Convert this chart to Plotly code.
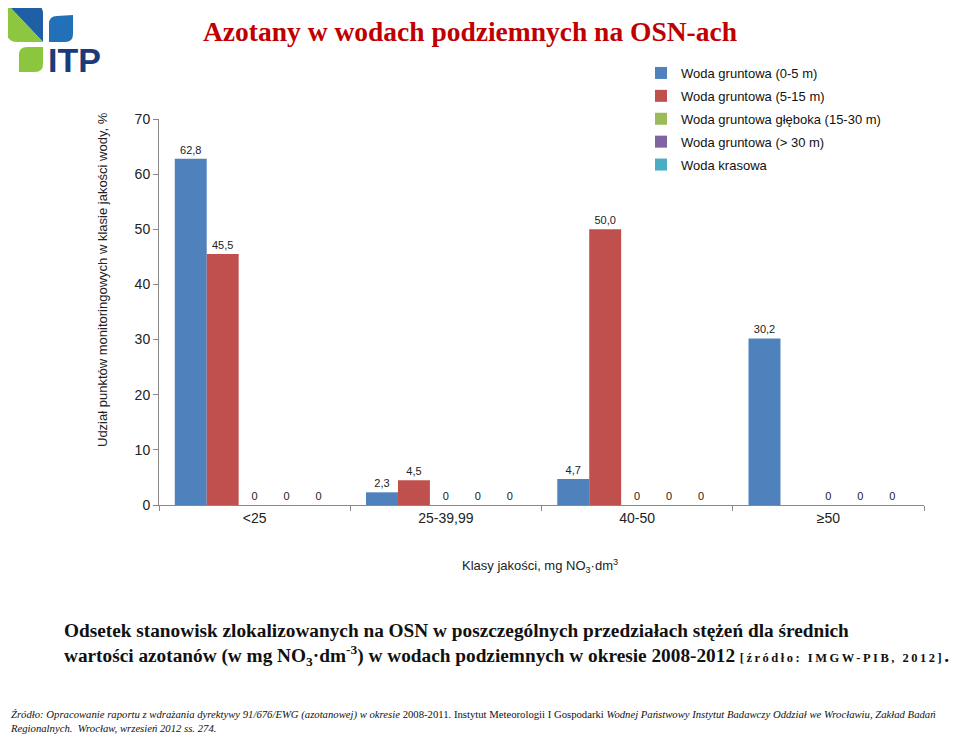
import plotly.graph_objects as go

categories = ["<25", "25-39,99", "40-50", "≥50"]
series_names = [
    "Woda gruntowa (0-5 m)",
    "Woda gruntowa (5-15 m)",
    "Woda gruntowa głęboka (15-30 m)",
    "Woda gruntowa (> 30 m)",
    "Woda krasowa",
]
woda_0_5 = [62.8, 2.3, 4.7, 30.2]
woda_5_15 = [45.5, 4.5, 50.0, None]
woda_15_30 = [0, 0, 0, 0]
woda_30 = [0, 0, 0, 0]
woda_krasowa = [0, 0, 0, 0]
series_values = [woda_0_5, woda_5_15, woda_15_30, woda_30, woda_krasowa]
colors = ["#4F81BD", "#C0504D", "#9BBB59", "#8064A2", "#4BACC6"]

OFF = 8  # page offset of the figure inside the browser window
W, H = 960 - OFF, 736 - OFF
L, R, T = 159 - OFF, 36, 119 - OFF
B = H - (505 - OFF)
PW, PH = W - L - R, H - T - B


def px(x):
    return (x - OFF - L) / PW


def py(y):
    return (H - B - (y - OFF)) / PH


def fmt(v):
    if v is None:
        return ""
    if v == 0:
        return "0"
    return f"{v:.1f}".replace(".", ",")


fig = go.Figure()
for name, vals, col in zip(series_names, series_values, colors):
    fig.add_trace(go.Bar(
        x=categories, y=vals, name=name, marker_color=col,
        marker_line_width=0,
        text=[fmt(v) for v in vals], textposition="outside",
        textfont=dict(size=11, color="#222", family="Liberation Sans"),
        cliponaxis=False, legendgroup=name,
    ))

fig.update_layout(
    width=W, height=H,
    margin=dict(l=L, r=R, t=T, b=B),
    paper_bgcolor="white", plot_bgcolor="white",
    barmode="group", bargap=0.165, bargroupgap=0,
    font=dict(family="Liberation Sans", color="#222"),
    showlegend=True,
    legend=dict(x=px(641), y=py(58), xanchor="left", yanchor="top",
                font=dict(size=13, color="#111"), tracegroupgap=3,
                bgcolor="rgba(0,0,0,0)"),
)
fig.update_yaxes(range=[0, 70], dtick=10, showgrid=False, zeroline=False,
                 showline=True, linecolor="#888", linewidth=1,
                 ticks="outside", ticklen=5, tickcolor="#888",
                 tickfont=dict(size=14, color="#222"))
fig.update_xaxes(showgrid=False, showline=True, linecolor="#888", linewidth=1,
                 ticks="outside", ticklen=5, tickcolor="#888", tickson="boundaries",
                 tickfont=dict(size=14, color="#222"))

ann = []
ann.append(dict(text="<b>Azotany w wodach podziemnych na OSN-ach</b>", x=px(470), y=py(31),
                xref="paper", yref="paper", showarrow=False, xanchor="center", yanchor="middle",
                font=dict(family="Liberation Serif", size=27.5, color="#C00000")))
ann.append(dict(text="Udział punktów monitoringowych w klasie jakości wody, %", textangle=-90,
                x=px(102), y=py(280), xref="paper", yref="paper", showarrow=False,
                xanchor="center", yanchor="middle", font=dict(size=13, color="#222")))
ann.append(dict(text="Klasy jakości, mg NO<sub>3</sub>·dm<sup>3</sup>",
                x=px(540), y=py(566), xref="paper", yref="paper", showarrow=False,
                xanchor="center", yanchor="middle", font=dict(size=13, color="#222")))
ann.append(dict(text="<b>Odsetek stanowisk zlokalizowanych na OSN w poszczególnych przedziałach stężeń dla średnich<br>"
                     "wartości azotanów (w mg NO<sub>3</sub>·dm<sup>-3</sup>) w wodach podziemnych w okresie 2008-2012 "
                     "<span style='font-size:12.5px;letter-spacing:2.5px'>[źródło: IMGW-PIB, 2012]</span>.</b>",
                x=px(62), y=py(618), xref="paper", yref="paper", showarrow=False,
                xanchor="left", yanchor="top", align="left",
                font=dict(family="Liberation Serif", size=19.3, color="#111")))
ann.append(dict(text="<i>Źródło: Opracowanie raportu z wdrażania dyrektywy 91/676/EWG (azotanowej) w okresie</i> 2008-2011. "
                     "Instytut Meteorologii I Gospodarki <i>Wodnej Państwowy Instytut Badawczy Oddział we Wrocławiu, Zakład Badań</i><br>"
                     "<i>Regionalnych.  Wrocław, wrzesień 2012 ss. 274.</i>",
                x=px(9), y=py(707), xref="paper", yref="paper", showarrow=False,
                xanchor="left", yanchor="top", align="left", borderpad=0,
                font=dict(family="Liberation Serif", size=10.7, color="#111")))
ann.append(dict(text="<b>ITP</b>", x=px(46), y=py(60), xref="paper", yref="paper", showarrow=False,
                xanchor="left", yanchor="middle",
                font=dict(family="Liberation Sans", size=34, color="#1B3A7A")))
fig.update_layout(annotations=ann)


def path(cmds):
    out = []
    for c in cmds:
        if isinstance(c, str):
            out.append(c)
        else:
            out.append(f"{px(c[0]):.5f},{py(c[1]):.5f}")
    return " ".join(out)


shapes = []
shapes.append(dict(type="path", xref="paper", yref="paper", line_width=0, fillcolor="#1E5FA5",
                   path=path(["M", (7, 4), "L", (33, 4), "Q", (43, 4), (43, 14), "L", (43, 42), "Z"])))
shapes.append(dict(type="path", xref="paper", yref="paper", line_width=0, fillcolor="#8DC63F",
                   path=path(["M", (7, 4), "L", (43, 42), "L", (17, 42), "Q", (7, 42), (7, 32), "Z"])))
shapes.append(dict(type="path", xref="paper", yref="paper", line_width=0, fillcolor="#2170B8",
                   path=path(["M", (49, 42), "L", (49, 24), "Q", (49, 16), (57, 16), "L", (73, 15),
                              "L", (73, 34), "Q", (73, 42), (65, 42), "Z"])))
shapes.append(dict(type="path", xref="paper", yref="paper", line_width=0, fillcolor="#8CC63E",
                   path=path(["M", (19, 72), "L", (19, 55), "Q", (19, 47), (27, 47), "L", (43, 47),
                              "L", (43, 64), "Q", (43, 72), (35, 72), "Z"])))
fig.update_layout(shapes=shapes)

fig.write_html("out.html")
